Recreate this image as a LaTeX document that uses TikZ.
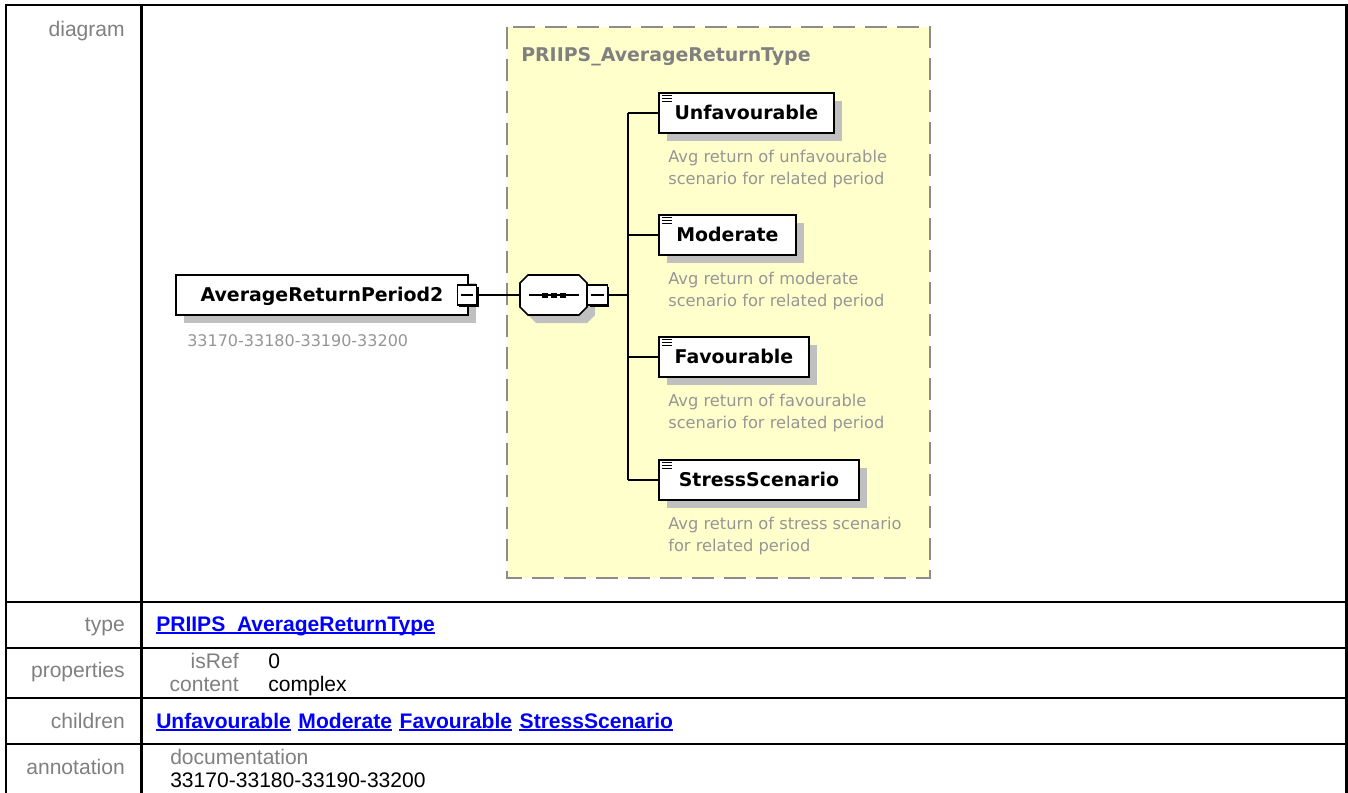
\documentclass[tikz,border=0pt]{standalone}
\usepackage{fontspec}
\setmainfont{Liberation Sans}
\newfontfamily\djs{DejaVu Sans}
\usetikzlibrary{shadows}
\definecolor{lblgray}{RGB}{128,128,128}
\definecolor{descgray}{RGB}{150,150,150}
\definecolor{ttlgray}{RGB}{128,128,128}
\definecolor{yel}{RGB}{255,255,204}
\definecolor{dashgray}{RGB}{140,140,140}
\definecolor{shgray}{RGB}{192,192,192}
\definecolor{linkblue}{RGB}{0,0,255}
\newcommand\docico[1]{\foreach \dy in {3.5,6.3,9.1}{\draw[line width=0.8pt] ([shift={(4,\dy)}]#1.north west) -- ++(10,0);}}
\newcommand\ulnode[1]{\draw[linkblue, line width=1.4pt] ([yshift=-1.2pt]#1.base west) -- ([yshift=-1.2pt]#1.base east);}
\begin{document}
\begin{tikzpicture}[x=0.75pt,y=-0.75pt,
  tbl/.style={line width=1.7pt},
  lbl/.style={inner sep=0pt, anchor=base east, text=lblgray, font=\fontsize{15.8pt}{19pt}\selectfont},
  val/.style={inner sep=0pt, anchor=base west, text=black, font=\fontsize{15.8pt}{19pt}\selectfont},
  lnk/.style={inner sep=0pt, anchor=base west, text=linkblue, font=\fontsize{15.8pt}{19pt}\selectfont\bfseries},
  elem/.style={draw, line width=1.4pt, fill=white, inner sep=0pt, minimum height=30pt, text height=10.4pt, text depth=0pt, anchor=west, font=\djs\bfseries\fontsize{14.2pt}{17pt}\selectfont, drop shadow={shadow xshift=6pt, shadow yshift=-6pt, fill=shgray, opacity=1}},
  desc/.style={inner sep=0pt, anchor=base west, align=left, text=descgray, font=\djs\fontsize{12.2pt}{16.5pt}\selectfont},
  minusbox/.style={draw, line width=0.8pt, fill=white, minimum width=14.5pt, minimum height=15pt, inner sep=0pt, drop shadow={shadow xshift=1.4pt, shadow yshift=-1.4pt, fill=black, opacity=1}, path picture={\draw[line width=0.9pt] ([xshift=2.5pt]path picture bounding box.west) -- ([xshift=-2.5pt]path picture bounding box.east);}},
  conn/.style={line width=1.3pt},
]
\useasboundingbox (0,0) rectangle (1348,792);
\fill[white] (0,0) rectangle (1348,792);

% ---------- table ----------
\draw[tbl] (6,5) rectangle (1346.5,795);
\draw[tbl] (141.5,5) -- (141.5,795);
\draw[tbl] (6,602) -- (1346.5,602);
\draw[tbl] (6,647.7) -- (1346.5,647.7);
\draw[tbl] (6,697.7) -- (1346.5,697.7);
\draw[tbl] (6,744) -- (1346.5,744);

\node[lbl] (ldiag) at (125,36.5) {diagram};
\node[lbl] (ltype) at (125,631.5) {type};
\node[lbl] (lprop) at (125,677.7) {properties};
\node[lbl] (lchild) at (125,728.3) {children};
\node[lbl] (lann) at (125,774) {annotation};

\node[lnk] (tlink) at (156,631.5) {PRIIPS\_AverageReturnType};
\ulnode{tlink}
\node[lbl] (pk1) at (239,668.3) {isRef};
\node[val] (pv1) at (268,668.3) {0};
\node[lbl] (pk2) at (239,691.7) {content};
\node[val] (pv2) at (268,691.7) {complex};
\node[lnk] (c1) at (156,728.3) {Unfavourable};
\node[lnk] (c2) at ([xshift=5.3pt]c1.base east) {Moderate};
\node[lnk] (c3) at ([xshift=5.3pt]c2.base east) {Favourable};
\node[lnk] (c4) at ([xshift=5.3pt]c3.base east) {StressScenario};
\ulnode{c1}\ulnode{c2}\ulnode{c3}\ulnode{c4}
\node[lbl, anchor=base west] (adoc) at (170,764.5) {documentation};
\node[val] (aval) at (170,787.5) {33170-33180-33190-33200};

% ---------- diagram ----------
\draw[dashgray, line width=1.9pt, dash pattern=on 16.5pt off 7.5pt, fill=yel] (507,27) rectangle (930,578);
\node[inner sep=0pt, anchor=base west, text=ttlgray, font=\djs\bfseries\fontsize{14.2pt}{17pt}\selectfont] (ttl) at (521,61.5) {PRIIPS\_AverageReturnType};

% main element
\node[elem, minimum width=219pt] (arp) at (175,295) {AverageReturnPeriod2};
\node[inner sep=0pt, anchor=base west, text=descgray, font=\djs\fontsize{12pt}{14pt}\selectfont] (arpdoc) at (187,346) {33170-33180-33190-33200};
\node[minusbox] (mA) at (467,295) {};

% sequence compositor
\node[inner sep=0pt, minimum width=50.25pt, minimum height=30pt] (seq) at (553.5,295) {};
\fill[shgray] (536,283) -- (587,283) -- (595,291) -- (595,315) -- (587,323) -- (536,323) -- (528,315) -- (528,291) -- cycle;
\draw[line width=1.2pt, fill=white] (528,275) -- (579,275) -- (587,283) -- (587,307) -- (579,315) -- (528,315) -- (520,307) -- (520,283) -- cycle;
\draw[line width=1.2pt] (529,295) -- (579,295);
\fill (542,292.5) rectangle (548,297.5);
\fill (551,292.5) rectangle (557,297.5);
\fill (560,292.5) rectangle (566,297.5);
\node[minusbox] (mB) at (597.5,295) {};

% children
\node[elem, minimum width=131.25pt] (u) at (658,113) {Unfavourable};
\node[elem, minimum width=102.75pt] (m) at (658,235) {Moderate};
\node[elem, minimum width=112.5pt] (f) at (658,357) {Favourable};
\node[elem, minimum width=150pt] (s) at (658,480) {StressScenario};
\docico{u}\docico{m}\docico{f}\docico{s}

\node[desc] (ud) at (668,184) {Avg return of unfavourable\\scenario for related period};
\node[desc] (md) at (668,306) {Avg return of moderate\\scenario for related period};
\node[desc] (fd) at (668,428) {Avg return of favourable\\scenario for related period};
\node[desc] (sd) at (668,551) {Avg return of stress scenario\\for related period};

% connectors
\coordinate (jn) at (628,295);
\draw[conn] (mA.east) -- (mA.east -| seq.west);
\draw[conn] (mB.east) -- (mB.east -| jn);
\draw[conn] (jn |- u.west) -- (jn |- s.west);
\draw[conn] (jn |- u.west) -- (u.west);
\draw[conn] (jn |- m.west) -- (m.west);
\draw[conn] (jn |- f.west) -- (f.west);
\draw[conn] (jn |- s.west) -- (s.west);
\end{tikzpicture}
\end{document}
